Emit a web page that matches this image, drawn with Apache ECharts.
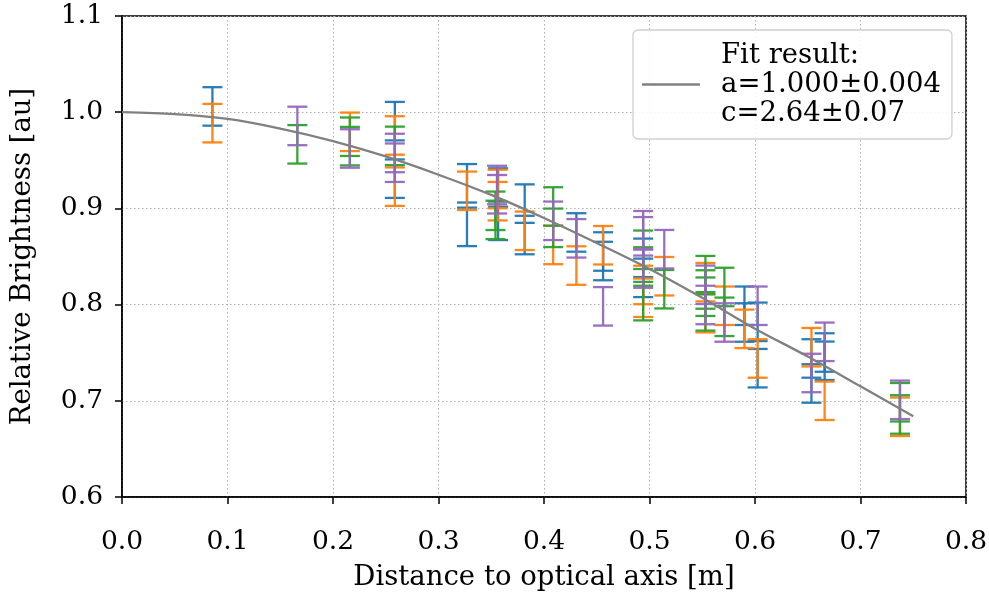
<!DOCTYPE html>
<html>
<head>
<meta charset="utf-8">
<script src="https://cdn.jsdelivr.net/npm/echarts@6/dist/echarts.min.js"></script>
<style>
html,body{margin:0;padding:0;background:#fff;}
#chart{width:989px;height:594px;}
</style>
</head>
<body>
<div id="chart"></div>
<script>
// ---------- data ----------
const xTicks = [0.0, 0.1, 0.2, 0.3, 0.4, 0.5, 0.6, 0.7, 0.8];
const yTicks = [0.6, 0.7, 0.8, 0.9, 1.0, 1.1];

const blueX = [0.0857, 0.2586, 0.2586, 0.327, 0.327, 0.3565, 0.3565, 0.3817, 0.3817, 0.4307, 0.456, 0.456, 0.494, 0.494, 0.590, 0.590, 0.6025, 0.6025, 0.6535, 0.6535, 0.666, 0.666];
const blueY = [1.006, 0.9907, 0.9309, 0.9261, 0.8808, 0.9217, 0.8871, 0.905, 0.8723, 0.875, 0.8552, 0.8453, 0.8486, 0.8278, 0.7988, 0.7814, 0.7821, 0.7339, 0.744, 0.718, 0.7502, 0.7416];
const blueErr = [0.02, 0.02, 0.02, 0.02, 0.02, 0.02, 0.02, 0.02, 0.02, 0.02, 0.02, 0.02, 0.02, 0.02, 0.02, 0.02, 0.02, 0.02, 0.02, 0.02, 0.02, 0.02];

const orangeX = [0.0857, 0.216, 0.2586, 0.2586, 0.327, 0.356, 0.356, 0.3817, 0.4087, 0.4307, 0.456, 0.494, 0.494, 0.514, 0.553, 0.553, 0.571, 0.590, 0.6025, 0.6535, 0.666, 0.7374];
const orangeY = [0.9886, 0.9796, 0.9758, 0.9226, 0.9183, 0.9202, 0.9075, 0.8767, 0.862, 0.8406, 0.8617, 0.8204, 0.8071, 0.8295, 0.8233, 0.7911, 0.7988, 0.7748, 0.744, 0.7557, 0.700, 0.6834];
const orangeErr = [0.02, 0.02, 0.02, 0.02, 0.02, 0.02, 0.02, 0.02, 0.02, 0.02, 0.02, 0.02, 0.02, 0.02, 0.02, 0.02, 0.02, 0.02, 0.02, 0.02, 0.02, 0.02];

const greenX = [0.1662, 0.216, 0.216, 0.2586, 0.354, 0.354, 0.4087, 0.4087, 0.494, 0.494, 0.494, 0.514, 0.553, 0.553, 0.553, 0.553, 0.571, 0.571, 0.7374, 0.7374];
const greenY = [0.9666, 0.9745, 0.9647, 0.965, 0.8975, 0.888, 0.902, 0.8798, 0.857, 0.8396, 0.8036, 0.816, 0.8306, 0.8157, 0.8082, 0.793, 0.8183, 0.7873, 0.6985, 0.6858];
const greenErr = [0.02, 0.02, 0.02, 0.02, 0.02, 0.02, 0.02, 0.02, 0.02, 0.02, 0.02, 0.02, 0.02, 0.02, 0.02, 0.02, 0.02, 0.02, 0.02, 0.02];

const purpleX = [0.1662, 0.216, 0.2586, 0.2586, 0.3555, 0.3555, 0.4087, 0.4307, 0.456, 0.494, 0.494, 0.494, 0.514, 0.553, 0.553, 0.571, 0.6025, 0.6535, 0.666, 0.7374];
const purpleY = [0.9857, 0.9623, 0.9576, 0.9475, 0.9243, 0.9147, 0.8871, 0.8689, 0.7982, 0.8773, 0.871, 0.8375, 0.8576, 0.8206, 0.7996, 0.7814, 0.7988, 0.7289, 0.7613, 0.701];
const purpleErr = [0.02, 0.02, 0.02, 0.02, 0.02, 0.02, 0.02, 0.02, 0.02, 0.02, 0.02, 0.02, 0.02, 0.02, 0.02, 0.02, 0.02, 0.02, 0.02, 0.02];

const fitX = [0.00, 0.05, 0.10, 0.15, 0.20, 0.25, 0.30, 0.35, 0.40, 0.45, 0.50, 0.55, 0.60, 0.65, 0.70, 0.75];
const fitY = [1.000, 0.998, 0.993, 0.983, 0.970, 0.954, 0.935, 0.914, 0.890, 0.864, 0.837, 0.807, 0.775, 0.746, 0.715, 0.684];
const fitLabel = 'Fit result:\na=1.000±0.004\nc=2.64±0.07';

// ---------- chart ----------
const FONT = 'DejaVu Serif';
const chart = echarts.init(document.getElementById('chart'));

function zip3(xs, ys, es) { return xs.map((x, i) => [x, ys[i], es[i]]); }

function errSeries(name, color, xs, ys, es) {
  return {
    type: 'custom',
    name: name,
    data: zip3(xs, ys, es),
    encode: { x: 0, y: 1 },
    z: 2,
    renderItem: function (params, api) {
      const x = api.value(0), y = api.value(1), e = api.value(2);
      const top = api.coord([x, y + e]);
      const bot = api.coord([x, y - e]);
      const hw = 10;
      const style = { stroke: color, lineWidth: 2.3, opacity: 0.95 };
      return {
        type: 'group',
        children: [
          { type: 'line', shape: { x1: top[0], y1: top[1], x2: bot[0], y2: bot[1] }, style: style },
          { type: 'line', shape: { x1: top[0] - hw, y1: top[1], x2: top[0] + hw, y2: top[1] }, style: style },
          { type: 'line', shape: { x1: bot[0] - hw, y1: bot[1], x2: bot[0] + hw, y2: bot[1] }, style: style }
        ]
      };
    }
  };
}

const gridLine = { show: true, lineStyle: { color: '#b0b0b0', width: 1, type: [1.5, 2.5] } };

chart.setOption({
  animation: false,
  backgroundColor: '#ffffff',
  grid: { left: 122, right: 23, top: 16, bottom: 97, containLabel: false, outerBoundsMode: 'none',
    show: true, borderColor: '#000', borderWidth: 1.5, backgroundColor: 'transparent' },
  legend: {
    data: [{ name: fitLabel, icon: 'rect' }],
    left: 633, top: 30,
    orient: 'vertical',
    itemWidth: 58, itemHeight: 2.5,
    itemStyle: { color: '#808080' },
    padding: [11, 11, 11, 9],
    backgroundColor: 'rgba(255,255,255,0.85)',
    borderColor: '#d0d0d0', borderWidth: 1.3, borderRadius: 5,
    textStyle: { fontFamily: FONT, fontSize: 27.5, lineHeight: 29, color: '#000', padding: [0, 0, 0, 16] }
  },
  xAxis: {
    type: 'value', min: 0, max: 0.8, interval: 0.1,
    name: 'Distance to optical axis [m]', nameLocation: 'middle', nameGap: 67,
    nameTextStyle: { fontFamily: FONT, fontSize: 27.5, color: '#000' },
    axisLine: { show: true, onZero: false, lineStyle: { color: '#000', width: 1.5 } },
    axisTick: { show: true, inside: false, length: 7, lineStyle: { color: '#000', width: 1.5 } },
    axisLabel: { fontFamily: FONT, fontSize: 26.5, color: '#000', margin: 32,
      formatter: v => { const t = xTicks.find(k => Math.abs(k - v) < 1e-9); return (t === undefined ? v : t).toFixed(1); } },
    splitLine: gridLine
  },
  yAxis: {
    type: 'value', min: 0.6, max: 1.1, interval: 0.1,
    name: 'Relative Brightness [au]', nameLocation: 'middle', nameGap: 85,
    nameTextStyle: { fontFamily: FONT, fontSize: 27.5, color: '#000' },
    axisLine: { show: true, onZero: false, lineStyle: { color: '#000', width: 1.5 } },
    axisTick: { show: true, inside: false, length: 7, lineStyle: { color: '#000', width: 1.5 } },
    axisLabel: { fontFamily: FONT, fontSize: 26.5, color: '#000', margin: 19,
      formatter: v => { const t = yTicks.find(k => Math.abs(k - v) < 1e-9); return (t === undefined ? v : t).toFixed(1); } },
    splitLine: gridLine
  },
  series: [
    errSeries('blue', '#1f77b4', blueX, blueY, blueErr),
    errSeries('orange', '#ff7f0e', orangeX, orangeY, orangeErr),
    errSeries('green', '#2ca02c', greenX, greenY, greenErr),
    errSeries('purple', '#9467bd', purpleX, purpleY, purpleErr),
    {
      type: 'line', name: fitLabel,
      data: fitX.map((x, i) => [x, fitY[i]]),
      smooth: 0.3, symbol: 'none', showSymbol: false,
      lineStyle: { color: '#808080', width: 2.3 }, itemStyle: { color: '#808080' },
      z: 5
    }
  ]
});
</script>
</body>
</html>
